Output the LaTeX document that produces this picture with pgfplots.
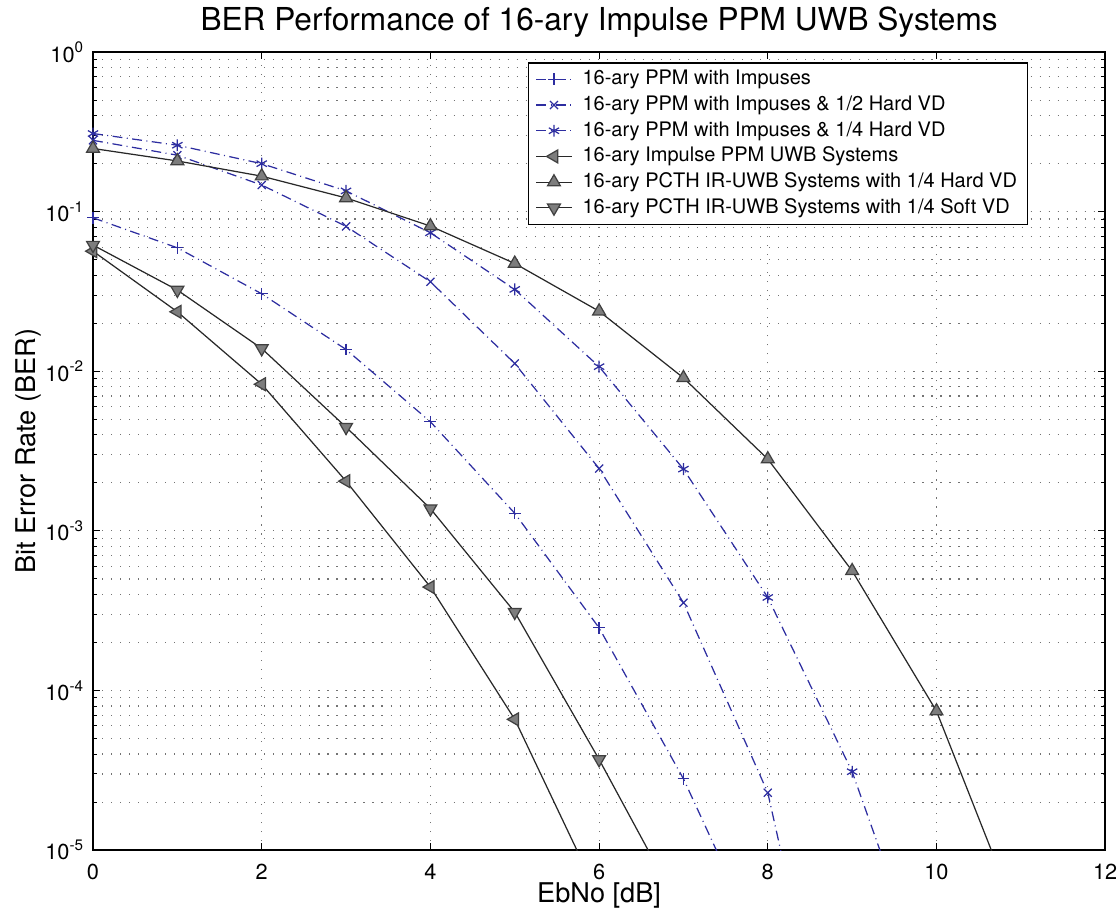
\documentclass[border=0pt]{standalone}
\usepackage{fontspec}
\setmainfont{TeX Gyre Heros}
\usepackage{pgfplots}
\pgfplotsset{compat=1.18}
\usepackage{xcolor}
\definecolor{berblue}{RGB}{45,45,160}
\definecolor{mkgray}{RGB}{125,125,125}
\definecolor{lngray}{RGB}{40,40,40}

\begin{document}
\begin{tikzpicture}
% picture frame, 1px = 0.4049pt of the reference
\path[use as bounding box] (-37.66pt,-24.70pt) rectangle (415.8pt,344.2pt);
\begin{axis}[
    at={(0pt,0pt)}, anchor=south west,
    scale only axis,
    width=409.8pt, height=323.1pt,
    ymode=log,
    xmin=0, xmax=12,
    ymin=1e-5, ymax=1,
    xtick={0,2,...,12},
    ytick={1e-5,1e-4,1e-3,1e-2,1e-1,1},
    yticklabels={10\textsuperscript{-5},10\textsuperscript{-4},10\textsuperscript{-3},10\textsuperscript{-2},10\textsuperscript{-1},10\textsuperscript{0}},
    /pgf/number format/assume math mode=true,
    xticklabel style={font=\fontsize{8.8}{10}\selectfont, yshift=-2.3pt},
    yticklabel style={font=\fontsize{8.8}{10}\selectfont},
    major tick length=2.8pt,
    minor tick length=1.6pt,
    tick style={black, line width=0.4pt},
    axis line style={black, line width=0.6pt},
    xmajorgrids, ymajorgrids, yminorgrids,
    grid style={black!55, line width=0.45pt, dash pattern=on 0.45pt off 3.2pt},
    minor grid style={black!55, line width=0.45pt, dash pattern=on 0.45pt off 3.2pt},
    xlabel={EbNo [dB]},
    ylabel={Bit Error Rate (BER)},
    every axis x label/.style={at={(axis description cs:0.5,0)}, anchor=center, yshift=-18.2pt, font=\fontsize{11}{12}\selectfont},
    every axis y label/.style={at={(axis description cs:0,0.5)}, anchor=center, xshift=-26.3pt, rotate=90, font=\fontsize{11}{12}\selectfont},
    title={BER Performance of 16-ary Impulse PPM UWB Systems},
    every axis title/.style={at={(axis description cs:0.5,1)}, anchor=center, yshift=12.1pt, font=\fontsize{12.8}{14}\selectfont},
    clip mode=individual,
    legend style={at={(0.4294,0.9875)}, anchor=north west,
                  draw=black, line width=0.6pt, fill=white,
                  font=\fontsize{8.1}{10}\selectfont,
                  inner xsep=3pt, inner ysep=1.5pt,
                  nodes={inner sep=1.2pt, text height=6.2pt, text depth=1.8pt},
                  /tikz/every odd column/.append style={column sep=3pt}},
    legend cell align=left,
    legend image code/.code={
        \draw[mark indices={2}]
        plot coordinates {(0cm,0cm) (0.25cm,0cm) (0.5cm,0cm)};
    },
]

% 16-ary PPM with Impuses
\addplot[berblue, line width=0.5pt, dash pattern=on 4pt off 1.8pt on 0.4pt off 1.8pt,
         mark=+, mark size=2.4pt, mark options={solid}, mark indices={1,...,8}]
coordinates {
  (0,0.0916) (1,0.0594) (2,0.0306) (3,0.0137) (4,0.00483)
  (5,0.00129) (6,2.47e-4) (7,2.8e-5) (8,2e-6)
};
\addlegendentry{16-ary PPM with Impuses}

% 16-ary PPM with Impuses & 1/2 Hard VD
\addplot[berblue, line width=0.5pt, dash pattern=on 4pt off 1.8pt on 0.4pt off 1.8pt,
         mark=x, mark size=2.3pt, mark options={solid}, mark indices={1,...,9}]
coordinates {
  (0,0.28) (1,0.226) (2,0.147) (3,0.081) (4,0.0364)
  (5,0.0112) (6,0.00246) (7,3.55e-4) (8,2.29e-5) (9,1e-7)
};
\addlegendentry{16-ary PPM with Impuses \& 1/2 Hard VD}

% 16-ary PPM with Impuses & 1/4 Hard VD
\addplot[berblue, line width=0.5pt, dash pattern=on 4pt off 1.8pt on 0.4pt off 1.8pt,
         mark=asterisk, mark size=2.4pt, mark options={solid}, mark indices={1,...,10}]
coordinates {
  (0,0.309) (1,0.261) (2,0.200) (3,0.135) (4,0.0738)
  (5,0.0326) (6,0.0107) (7,0.00244) (8,3.83e-4) (9,3.1e-5) (10,1e-6)
};
\addlegendentry{16-ary PPM with Impuses \& 1/4 Hard VD}

% 16-ary Impulse PPM UWB Systems
\addplot[lngray, line width=0.5pt, mark=triangle*, mark size=3pt,
         mark options={rotate=90, fill=mkgray, draw=black!75}, mark indices={1,...,6}]
coordinates {
  (0,0.0566) (1,0.0236) (2,0.0083) (3,0.00205) (4,4.45e-4)
  (5,6.6e-5) (6,5.1e-6)
};
\addlegendentry{16-ary Impulse PPM UWB Systems}

% 16-ary PCTH IR-UWB Systems with 1/4 Hard VD
\addplot[lngray, line width=0.5pt, mark=triangle*, mark size=3pt,
         mark options={fill=mkgray, draw=black!75}, mark indices={1,...,11}]
coordinates {
  (0,0.249) (1,0.208) (2,0.167) (3,0.122) (4,0.0813) (5,0.0474)
  (6,0.0238) (7,0.0091) (8,0.00282) (9,5.62e-4) (10,7.43e-5) (11,3.4e-6)
};
\addlegendentry{16-ary PCTH IR-UWB Systems with 1/4 Hard VD}

% 16-ary PCTH IR-UWB Systems with 1/4 Soft VD
\addplot[lngray, line width=0.5pt, mark=triangle*, mark size=3pt,
         mark options={rotate=180, fill=mkgray, draw=black!75}, mark indices={1,...,7}]
coordinates {
  (0,0.0618) (1,0.0323) (2,0.0139) (3,0.00447) (4,0.00138)
  (5,3.1e-4) (6,3.7e-5) (7,3.9e-6)
};
\addlegendentry{16-ary PCTH IR-UWB Systems with 1/4 Soft VD}

\end{axis}
\end{tikzpicture}
\end{document}
